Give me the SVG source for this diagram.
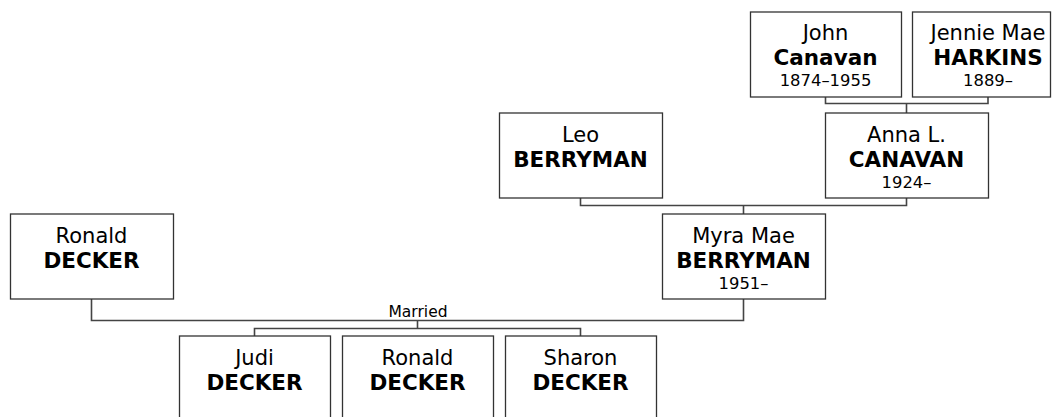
<svg xmlns="http://www.w3.org/2000/svg" width="1053" height="417" viewBox="0 0 1053 417">
<style>
.box{fill:#fff;stroke:#333;stroke-width:1.3}
.t{font-family:"DejaVu Sans",Verdana,sans-serif;fill:#000;text-anchor:middle}
.n{font-size:21px}
.s{font-size:21.5px;font-weight:bold}
.d{font-size:16.4px}
.c{fill:none;stroke:#444;stroke-width:1.6}
.m{font-size:15.5px}
</style>
<rect width="1053" height="417" fill="#fff"/>
<g id="connectors">
<path class="c" d="M825.5 97V103.5H988V97M906.5 103.5V113"/>
<path class="c" d="M580.5 198V205.5H906.5V198M743.5 205.5V214"/>
<path class="c" d="M91.5 299V320.5H743.5V299M417.5 320.5V328.5M254.5 336V328.5H580.5V336"/>
<text class="t m" x="418" y="316.5">Married</text>
</g>
<g id="john"><rect class="box" x="750.5" y="12" width="151" height="85"/>
<text class="t n" x="825.5" y="40">John</text><text class="t s" x="825.5" y="65">Canavan</text><text class="t d" x="825.5" y="85.5">1874–1955</text></g>
<g id="jennie"><rect class="box" x="912.5" y="12" width="138" height="85"/>
<text class="t n" x="988" y="40">Jennie Mae</text><text class="t s" x="988" y="65">HARKINS</text><text class="t d" x="988" y="85.5">1889–</text></g>
<g id="leo"><rect class="box" x="499.5" y="113" width="163" height="85"/>
<text class="t n" x="580.5" y="142">Leo</text><text class="t s" x="580.5" y="167">BERRYMAN</text></g>
<g id="anna"><rect class="box" x="825.5" y="113" width="163" height="85"/>
<text class="t n" x="906.5" y="142">Anna L.</text><text class="t s" x="906.5" y="167">CANAVAN</text><text class="t d" x="906.5" y="187.5">1924–</text></g>
<g id="ronald"><rect class="box" x="10.5" y="214" width="163" height="85"/>
<text class="t n" x="91.5" y="243">Ronald</text><text class="t s" x="91.5" y="268">DECKER</text></g>
<g id="myra"><rect class="box" x="662.5" y="214" width="163" height="85"/>
<text class="t n" x="743.5" y="243">Myra Mae</text><text class="t s" x="743.5" y="268">BERRYMAN</text><text class="t d" x="743.5" y="288.5">1951–</text></g>
<g id="judi"><rect class="box" x="179.5" y="336" width="151" height="85"/>
<text class="t n" x="254.5" y="365">Judi</text><text class="t s" x="254.5" y="390">DECKER</text></g>
<g id="ronald2"><rect class="box" x="342.5" y="336" width="151" height="85"/>
<text class="t n" x="417.5" y="365">Ronald</text><text class="t s" x="417.5" y="390">DECKER</text></g>
<g id="sharon"><rect class="box" x="505.5" y="336" width="151" height="85"/>
<text class="t n" x="580.5" y="365">Sharon</text><text class="t s" x="580.5" y="390">DECKER</text></g>
</svg>
